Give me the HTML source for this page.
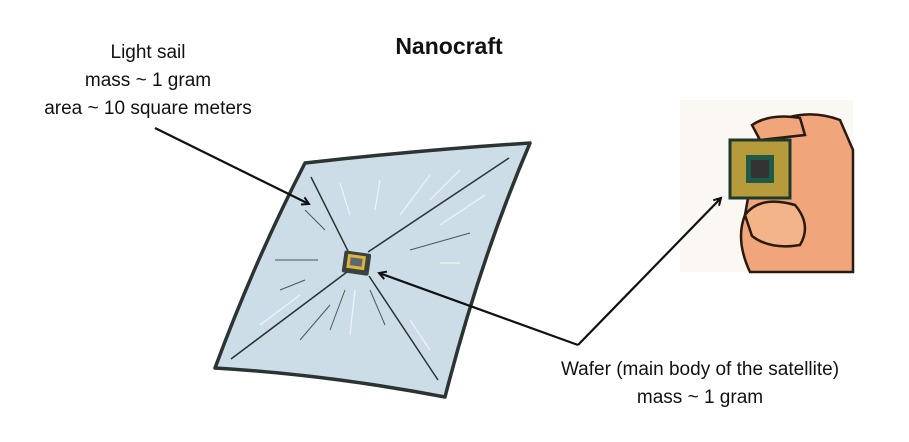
<!DOCTYPE html>
<html><head><meta charset="utf-8"><style>
body{margin:0;width:909px;height:442px;background:#fff;overflow:hidden;font-family:"Liberation Sans",sans-serif}
.t{position:absolute;color:#111;text-align:center;font-size:19px;line-height:28px}
</style></head><body>
<div class="t" style="left:0;width:898px;top:32px;font-weight:bold;font-size:23px">Nanocraft</div>
<div class="t" style="left:18px;width:260px;top:39px">Light sail<br>mass ~ 1 gram<br>area ~ 10 square meters</div>
<div class="t" style="left:520px;width:360px;top:356px">Wafer (main body of the satellite)<br>mass ~ 1 gram</div>
<svg width="909" height="442" style="position:absolute;left:0;top:0">
<defs><marker id="a" markerWidth="10" markerHeight="10" refX="8" refY="5" orient="auto" markerUnits="userSpaceOnUse"><path d="M1,1 L8,5 L1,9" fill="none" stroke="#111" stroke-width="2"/></marker></defs>
<rect x="680" y="100" width="173" height="172" fill="#fbf7f2"/>
<path d="M760,130 Q800,105 840,120 L853,150 L853,272 L750,272 Q735,240 745,215 Z" fill="#f0a57a" stroke="#2a1a10" stroke-width="2.5"/>
<path d="M752,125 Q770,113 800,118 L805,135 L760,140 Z" fill="#f0a57a" stroke="#2a1a10" stroke-width="2.5"/>
<rect x="730" y="140" width="60" height="58" fill="#b79b3a" stroke="#1f3a2c" stroke-width="3"/>
<rect x="746" y="155" width="28" height="28" fill="#1f5a48"/>
<rect x="751" y="160" width="18" height="18" fill="#333"/>
<path d="M745,215 Q760,195 795,205 Q812,225 800,245 Q770,250 752,236 Z" fill="#f3b48a" stroke="#2a1a10" stroke-width="2.5"/>
<path d="M305,163 Q420,150 530,143 Q480,260 445,397 Q330,375 215,368 Q255,260 305,163Z" fill="#cddde8" stroke="#2b3432" stroke-width="3.5" stroke-linejoin="round"/>
<g stroke="#2b3432" stroke-width="1.5">
<line x1="311" y1="177" x2="350" y2="255"/><line x1="509" y1="158" x2="368" y2="252"/>
<line x1="231" y1="359" x2="347" y2="272"/><line x1="438" y1="380" x2="369" y2="276"/>
</g>
<g stroke="#eef4f8" stroke-width="1.2">
<line x1="340" y1="183" x2="350" y2="215"/><line x1="380" y1="180" x2="375" y2="210"/><line x1="430" y1="175" x2="400" y2="215"/><line x1="460" y1="170" x2="430" y2="200"/>
<line x1="485" y1="195" x2="440" y2="225"/><line x1="440" y1="263" x2="460" y2="263"/><line x1="260" y1="325" x2="300" y2="295"/><line x1="355" y1="290" x2="350" y2="335"/><line x1="410" y1="320" x2="430" y2="350"/>
</g>
<g stroke="#4a5758" stroke-width="1">
<line x1="275" y1="260" x2="318" y2="260"/><line x1="280" y1="290" x2="305" y2="280"/><line x1="305" y1="210" x2="325" y2="230"/><line x1="410" y1="250" x2="470" y2="233"/><line x1="330" y1="330" x2="345" y2="290"/><line x1="300" y1="340" x2="330" y2="305"/><line x1="370" y1="290" x2="385" y2="325"/>
</g>
<rect x="343" y="252" width="27" height="22" rx="2" fill="#3a4240" transform="rotate(8 356 263)"/>
<rect x="347" y="255" width="18" height="14" fill="#e0b43a" transform="rotate(8 356 263)"/>
<rect x="350" y="258" width="12" height="8" fill="#5b6870" transform="rotate(8 356 263)"/>
<line x1="155" y1="128" x2="309" y2="204" stroke="#111" stroke-width="2.2" marker-end="url(#a)"/>
<line x1="578" y1="345" x2="379" y2="273" stroke="#111" stroke-width="2.2" marker-end="url(#a)"/>
<line x1="578" y1="345" x2="721" y2="198" stroke="#111" stroke-width="2.2" marker-end="url(#a)"/>
</svg>
</body></html>
